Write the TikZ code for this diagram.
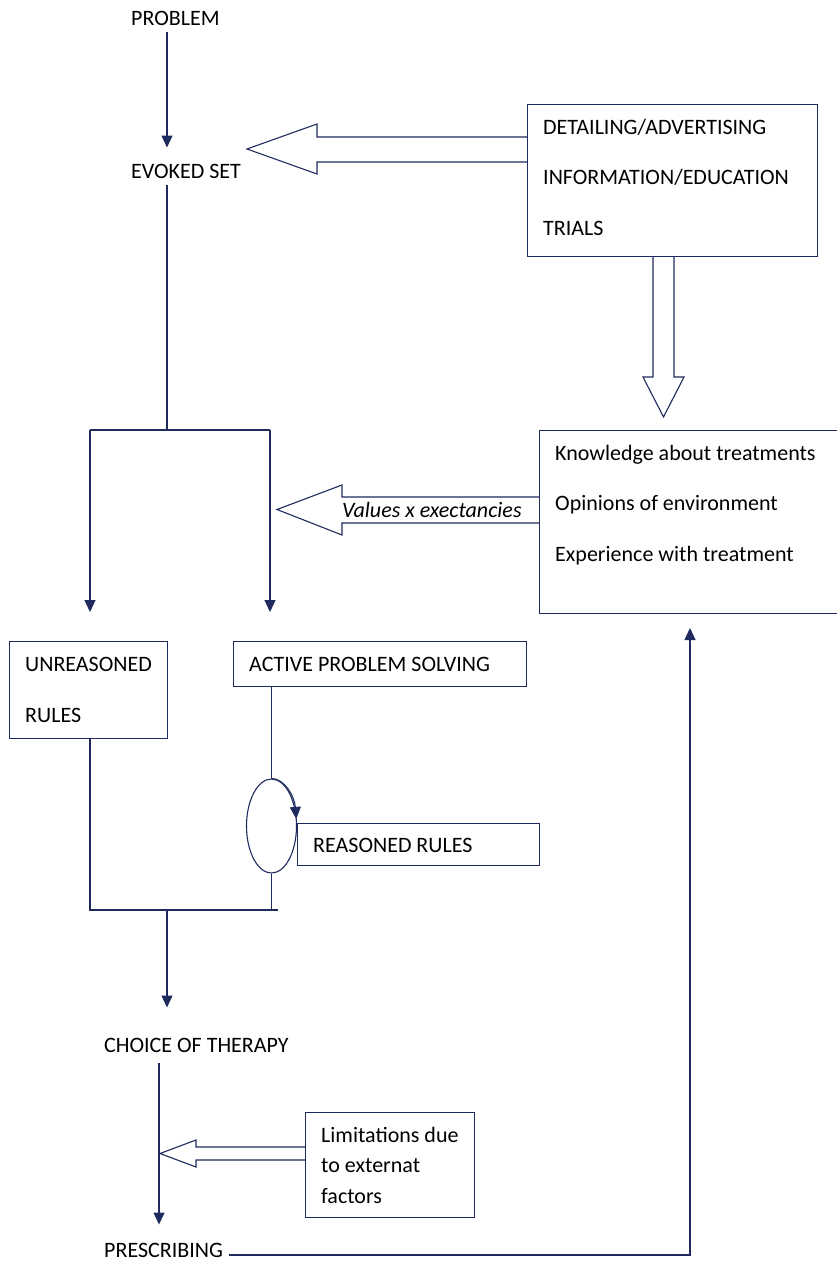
\documentclass[tikz,border=0pt]{standalone}
\usepackage{fontspec}
\setmainfont{Carlito}
\usetikzlibrary{arrows.meta,shapes.geometric,calc}
\definecolor{navy}{HTML}{1F2B5E}
\tikzset{
  lbl/.style   ={anchor=base west,inner sep=0pt,font=\fontsize{22}{26}\selectfont},
  frame/.style ={draw=navy,line width=1.1pt,anchor=north west,inner sep=0pt},
  flow/.style  ={-{Triangle[length=12pt,width=11pt]},line width=1.1pt,draw=navy},
  link/.style  ={line width=1.1pt,draw=navy},
  bigarrow/.style={draw=navy,line width=1.1pt,line join=miter}
}
\begin{document}
\begin{tikzpicture}[x=1pt,y=-1pt]
  \useasboundingbox (0,0) rectangle (837,1261);
  % texts on the main line
  \node[lbl] (prob) at (131,25) {PROBLEM};
  \node[lbl] (evok) at (131,178) {EVOKED SET};
  \node[lbl] (choice) at (104,1052) {CHOICE OF THERAPY};
  \node[lbl] (presc) at (104,1257) {PRESCRIBING};
  % boxes
  \node[frame,minimum width=290pt,minimum height=152pt] (det) at (527,104) {};
  \node[frame,minimum width=302pt,minimum height=183pt] (know) at (539,430) {};
  \node[frame,minimum width=158pt,minimum height=97pt] (unr) at (9,641) {};
  \node[frame,minimum width=293pt,minimum height=45pt] (aps) at (233,641) {};
  \node[frame,minimum width=242pt,minimum height=42pt] (rr) at (297,823) {};
  \node[frame,minimum width=169pt,minimum height=105pt] (lim) at (305,1112) {};
  \foreach \t [count=\i] in {DETAILING/ADVERTISING,INFORMATION/EDUCATION,TRIALS}
    \node[lbl] (det-\i) at (543,{83.5+50.5*\i}) {\t};
  \foreach \t [count=\i] in {Knowledge about treatments,Opinions of environment,Experience with treatment}
    \node[lbl] (know-\i) at (555,{409.5+50.5*\i}) {\t};
  \node[lbl] (unr-1) at (25,671) {UNREASONED};
  \node[lbl] (unr-2) at (25,722) {RULES};
  \node[lbl] (aps-1) at (249,671) {ACTIVE PROBLEM SOLVING};
  \node[lbl] (rr-1) at (313,852) {REASONED RULES};
  \foreach \t [count=\i] in {Limitations due,to externat,factors}
    \node[lbl] (lim-\i) at (321,{1111.5+30.5*\i}) {\t};
  \node[draw=navy,line width=1.1pt,ellipse,inner sep=0pt,
        minimum width=50pt,minimum height=94pt] (loop) at (271.5,826) {};
  % connectors
  \coordinate (split) at (167,430);
  \coordinate (lft) at (90,430);
  \coordinate (rgt) at (270,430);
  \coordinate (join) at (167,910);
  \coordinate (trunk) at (159,1063);
  \coordinate (ret) at (690,628);
  \draw[flow] ($(prob.south -| split)+(0,7)$) -- ($(evok.north -| split)+(0,-16)$);
  \draw[link] ($(evok.south -| split)+(0,7)$) -- (split);
  \draw[link] (lft) -- (rgt);
  \draw[flow] (lft) -- ($(unr.north -| lft)+(0,-29)$);
  \draw[flow] (rgt) -- ($(aps.north -| rgt)+(0,-29)$);
  \draw[link] (aps.south -| loop) -- (loop.north);
  \draw[flow] (loop.north) arc[start angle=-90,end angle=-8,x radius=25,y radius=47];
  \draw[link] (loop.south) -- (loop.south |- join);
  \draw[link] (unr.south -| lft) |- ($(join)+(111,0)$);
  \draw[flow] (join) -- ($(choice.north -| join)+(0,-30)$);
  \draw[flow] (trunk) -- ($(presc.north -| trunk)+(0,-18)$);
  \draw[flow] ($(presc.base east)+(6,-2)$) -| (ret);
  % block arrows
  \draw[bigarrow] (det.west |- 0,137) -- (317,137) -- (317,124) -- (247,149)
    -- (317,174) -- (317,162) -- (det.west |- 0,162);
  \draw[bigarrow] (653,256) -- (653,377) -- (643,377) -- (663.5,417)
    -- (684,377) -- (674,377) -- (674,256);
  \draw[bigarrow] (know.west |- 0,497) -- (342,497) -- (342,485) -- (277,509.5)
    -- (342,535) -- (342,523) -- (know.west |- 0,523);
  \node[lbl,font=\fontsize{22}{26}\selectfont\itshape] (vx) at (342,517) {Values x exectancies};
  \draw[bigarrow] (lim.west |- 0,1147) -- (196,1147) -- (196,1140) -- (160,1153.5)
    -- (196,1167) -- (196,1160) -- (lim.west |- 0,1160);
\end{tikzpicture}
\end{document}
